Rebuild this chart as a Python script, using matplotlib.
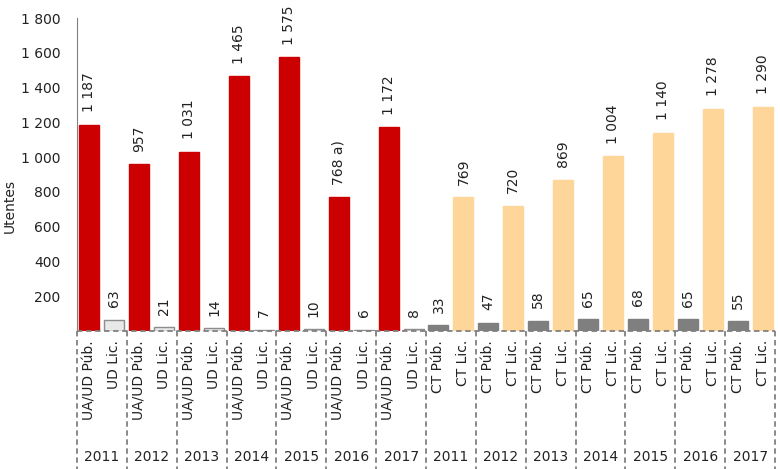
import matplotlib.pyplot as plt
from matplotlib.ticker import FuncFormatter

plt.rcParams['font.family'] = ['DejaVu Sans']

years = ['2011', '2012', '2013', '2014', '2015', '2016', '2017']
ua_pub = [1187, 957, 1031, 1465, 1575, 768, 1172]
ud_lic = [63, 21, 14, 7, 10, 6, 8]
ct_pub = [33, 47, 58, 65, 68, 65, 55]
ct_lic = [769, 720, 869, 1004, 1140, 1278, 1290]
notes = {('UA/UD Púb.', '2016'): ' a)'}

def fmt(v):
    return f'{v:,.0f}'.replace(',', ' ')

# build the bar list: first block UA/UD + UD Lic., then CT Púb. + CT Lic.
bars = []
for i, y in enumerate(years):
    bars.append(('UA/UD Púb.', y, ua_pub[i], '#cc0000', '#cc0000'))
    bars.append(('UD Lic.', y, ud_lic[i], '#e8e8e8', '#8c8c8c'))
for i, y in enumerate(years):
    bars.append(('CT Púb.', y, ct_pub[i], '#7f7f7f', '#7f7f7f'))
    bars.append(('CT Lic.', y, ct_lic[i], '#ffd699', '#ffd699'))

fig = plt.figure(figsize=(7.8, 4.69), dpi=100)
ax = fig.add_axes([77/780, (469-330.75)/469, 698/780, 312.75/469])

grey = '#808080'
txt = '#222222'
fs = 10
for k, (cat, yr, v, fc, ec) in enumerate(bars):
    ax.bar(k, v, width=0.8, color=fc, edgecolor=ec, linewidth=1.0)
    ax.annotate(fmt(v) + notes.get((cat, yr), ''), (k, v), xytext=(0, 9),
                textcoords='offset points', rotation=90, ha='center', va='bottom',
                fontsize=fs, color=txt)
    ax.text(k, -0.03, cat, rotation=90, ha='center', va='top', fontsize=fs,
            color=txt, transform=ax.get_xaxis_transform())

for g in range(14):
    ax.text(2*g + 0.5, -0.404, years[g % 7], ha='center', va='center',
            fontsize=fs, color=txt, transform=ax.get_xaxis_transform())
for g in range(15):
    ax.plot([2*g - 0.5, 2*g - 0.5], [0, -0.442], color=grey, lw=1.3,
            ls=(0, (3, 2)), transform=ax.get_xaxis_transform(), clip_on=False)
ax.plot([-0.5, 27.5], [0, 0], color=grey, lw=1.3, ls=(0, (3, 2)),
        transform=ax.get_xaxis_transform(), clip_on=False)

ax.set_xlim(-0.5, 27.5)
ax.set_ylim(0, 1800)
ax.set_yticks(range(200, 1801, 200))
ax.yaxis.set_major_formatter(FuncFormatter(lambda v, p: fmt(v)))
ax.tick_params(axis='y', length=0, pad=12, labelsize=fs, labelcolor=txt)
ax.set_xticks([])
for s in ['top', 'right', 'bottom']:
    ax.spines[s].set_visible(False)
ax.spines['left'].set_color(grey)
ax.set_ylabel('Utentes', fontsize=fs, color=txt)
ax.yaxis.set_label_coords(-0.087, 0.40)

fig.savefig('out.png', dpi=100)
